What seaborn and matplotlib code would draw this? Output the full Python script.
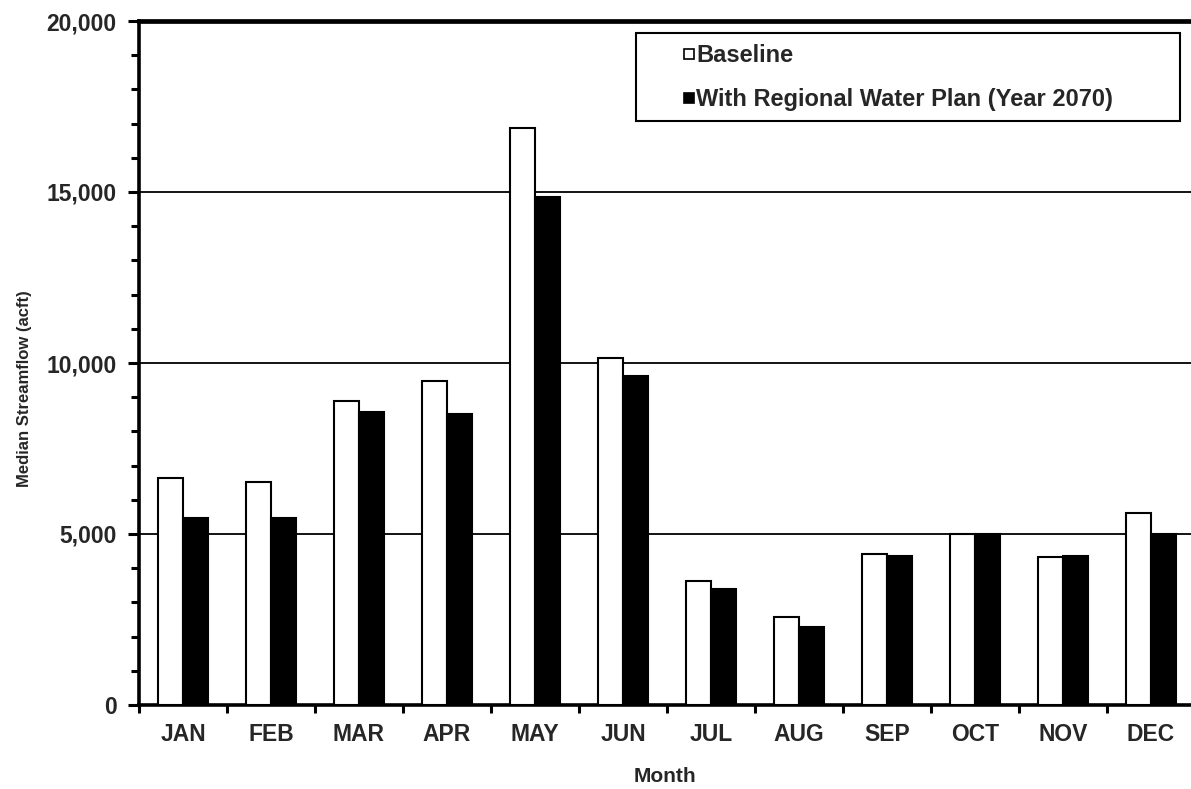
import matplotlib
matplotlib.use("Agg")
import matplotlib.pyplot as plt
from matplotlib.patches import Rectangle
from matplotlib.lines import Line2D
from matplotlib.ticker import MultipleLocator, FuncFormatter, FixedLocator
import seaborn as sns
import pandas as pd

months = ["JAN", "FEB", "MAR", "APR", "MAY", "JUN",
          "JUL", "AUG", "SEP", "OCT", "NOV", "DEC"]
baseline = [6650, 6520, 8880, 9460, 16880, 10150, 3640, 2570, 4410, 5000, 4320, 5600]
with_plan = [5480, 5480, 8570, 8510, 14860, 9620, 3390, 2270, 4360, 5000, 4360, 5000]
series_names = ["Baseline", "With Regional Water Plan (Year 2070)"]

df = pd.DataFrame({
    "Month": months * 2,
    "Flow": baseline + with_plan,
    "Scenario": [series_names[0]] * len(months) + [series_names[1]] * len(months),
})

sns.set_style("white")
plt.rcParams["font.family"] = ["Liberation Sans", "DejaVu Sans"]
plt.rcParams["font.weight"] = "bold"

W, H = 1191, 789
fig = plt.figure(figsize=(W / 100, H / 100), dpi=100)
ax = fig.add_axes([139 / W, 84 / H, 1056 / W, 684 / H])

sns.barplot(data=df, x="Month", y="Flow", hue="Scenario", order=months,
            hue_order=series_names, palette=["white", "black"],
            edgecolor="black", linewidth=1.5, width=0.57, gap=0,
            legend=False, ax=ax, zorder=3)

ax.set_xlim(-0.5, len(months) - 0.5)
ax.set_ylim(0, 20000)

# horizontal reference lines at the major ticks
ax.yaxis.set_major_locator(MultipleLocator(5000))
ax.yaxis.set_minor_locator(MultipleLocator(1000))
ax.yaxis.set_major_formatter(FuncFormatter(lambda v, p: f"{int(v):,}"))
ax.grid(axis="y", which="major", color="black", linewidth=1.3, zorder=0)
ax.grid(axis="x", visible=False)
ax.set_axisbelow(True)

# month boundaries carry the x ticks
ax.xaxis.set_minor_locator(FixedLocator([i - 0.5 for i in range(len(months) + 1)]))
ax.tick_params(axis="x", which="major", length=0, pad=13, labelsize=16.5)
ax.tick_params(axis="x", which="minor", length=6, width=2.2, direction="out",
               bottom=True, color="black")
ax.tick_params(axis="y", which="major", length=8, width=2.2, direction="out",
               left=True, pad=8, labelsize=16.5, color="black")
ax.tick_params(axis="y", which="minor", length=6, width=2.2, direction="out",
               left=True, color="black")
for lbl in ax.get_xticklabels() + ax.get_yticklabels():
    lbl.set_fontweight("bold")

for side, lw in [("left", 2.6), ("bottom", 2.6), ("top", 3.4), ("right", 2.6)]:
    ax.spines[side].set_visible(True)
    ax.spines[side].set_color("black")
    ax.spines[side].set_linewidth(lw)

ax.set_ylabel("Median Streamflow (acft)", fontsize=12, fontweight="bold")
ax.yaxis.set_label_coords(-0.101, 0.462)
ax.set_xlabel("Month", fontsize=15, fontweight="bold")
ax.xaxis.set_label_coords(0.498, -0.090)

# legend in a boxed frame at the upper right
handles = [
    Line2D([], [], marker="s", linestyle="none", markersize=7.5,
           markerfacecolor="white", markeredgecolor="black", markeredgewidth=1.2),
    Line2D([], [], marker="s", linestyle="none", markersize=7.5,
           markerfacecolor="black", markeredgecolor="black", markeredgewidth=1.2),
]
ax.legend(handles, series_names, loc="upper left",
          bbox_to_anchor=((683 - 139) / 1056, (705 - 44) / 684),
          frameon=False, handlelength=0.5, handletextpad=0.05,
          labelspacing=0.89, borderaxespad=0, borderpad=0,
          prop={"size": 17, "weight": "bold"})
ax.add_patch(Rectangle(((636 - 139) / 1056, (705 - 121) / 684),
                       (1180 - 636) / 1056, (121 - 33) / 684,
                       transform=ax.transAxes, facecolor="none",
                       edgecolor="black", linewidth=1.5, zorder=5))

fig.savefig("out.png", dpi=100)
